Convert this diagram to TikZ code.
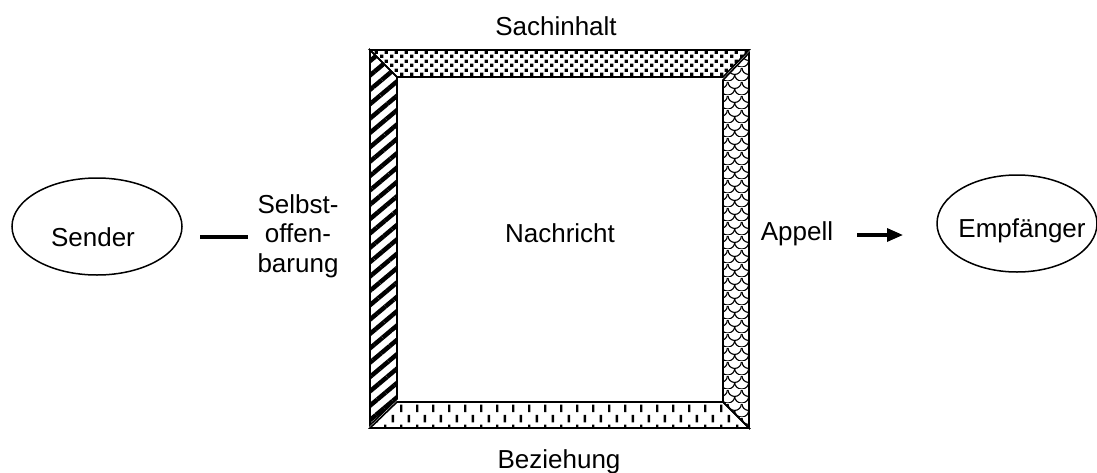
\documentclass[tikz,border=0pt]{standalone}
\usepackage{fontspec}
\setmainfont{Liberation Sans}
\usetikzlibrary{patterns.meta,shapes.geometric,arrows.meta}
\tikzdeclarepattern{
  name=topdots,
  bounding box={(0pt,0pt) and (10pt,9pt)},
  tile size={(10pt,9pt)},
  code={
    \fill (0pt,0pt) rectangle (3.6pt,3.6pt);
    \fill (5pt,4.5pt) rectangle (8.6pt,8.1pt);
  }
}
\tikzdeclarepattern{
  name=vdashes,
  bounding box={(0pt,0pt) and (16pt,20pt)},
  tile size={(16pt,20pt)},
  code={
    \fill (0pt,1pt) rectangle (2.6pt,8.5pt);
    \fill (8pt,11pt) rectangle (10.6pt,18.5pt);
  }
}
\tikzdeclarepattern{
  name=scales,
  bounding box={(0pt,0pt) and (14pt,14pt)},
  tile size={(14pt,14pt)},
  code={
    \draw[line width=1.2pt] (0pt,14pt) arc[start angle=180, end angle=360, x radius=7pt, y radius=7pt];
    \draw[line width=1.2pt] (-7pt,7pt) arc[start angle=180, end angle=360, x radius=7pt, y radius=7pt];
    \draw[line width=1.2pt] (7pt,7pt) arc[start angle=180, end angle=360, x radius=7pt, y radius=7pt];
  }
}
\begin{document}
\begin{tikzpicture}[x=1pt,y=-1pt,
  lbl/.style={font=\fontsize{26}{29.5}\selectfont, inner sep=0pt, anchor=base},
  ell/.style={draw, ellipse, line width=1.5pt, inner sep=0pt},
  border/.style={draw, line width=1.6pt, line join=miter},
  conn/.style={line width=3.2pt}]
\useasboundingbox (0,0) rectangle (1097,472);
% frame corners
\coordinate (oTL) at (370,50);
\coordinate (oTR) at (749,50);
\coordinate (oBR) at (749,428);
\coordinate (oBL) at (370,428);
\coordinate (iTL) at (397,77);
\coordinate (iTR) at (723,77);
\coordinate (iBR) at (723,402);
\coordinate (iBL) at (397,402);
% trapezoids
\draw[border, pattern={Lines[angle=40,distance=11pt,line width=4.5pt]}]
  (oTL) -- (iTL) -- ([yshift=3pt]iBL) -- ([yshift=3pt]oBL) -- cycle;
\draw[border, pattern=topdots] (oTL) -- (oTR) -- (iTR) -- (iTL) -- cycle;
\draw[border, pattern=scales]
  ([yshift=-3pt]oTR) -- (oBR) -- (iBR) -- ([yshift=-3pt]iTR) -- cycle;
\draw[border, pattern=vdashes] (iBL) -- (iBR) -- (oBR) -- (oBL) -- cycle;
% texts
\node[lbl] (sach) at (556,35) {Sachinhalt};
\node[lbl] (bez) at (559,468) {Beziehung};
\node[lbl] (nach) at (560,242) {Nachricht};
\node[lbl, align=center] (selbst) at (298,272) {Selbst-\\offen-\\barung};
\node[lbl] (appell) at (797,240) {Appell};
% ellipses
\node[ell, minimum width=170pt, minimum height=97pt] (sender) at (97,226.5) {};
\node[lbl] (sendertxt) at (93,246) {Sender};
\node[ell, minimum width=160pt, minimum height=97pt] (empf) at (1017,223.5) {};
\node[lbl] (empftxt) at (1022,237) {Empfänger};
% connectors
\coordinate (l1) at (200,237);
\coordinate (l2) at (248,237);
\draw[conn] (l1) -- (l2);
\coordinate (a1) at (857,235);
\coordinate (a2) at (903,235);
\draw[conn, -{Triangle[length=16pt,width=13pt]}] (a1) -- (a2);
\end{tikzpicture}
\end{document}
